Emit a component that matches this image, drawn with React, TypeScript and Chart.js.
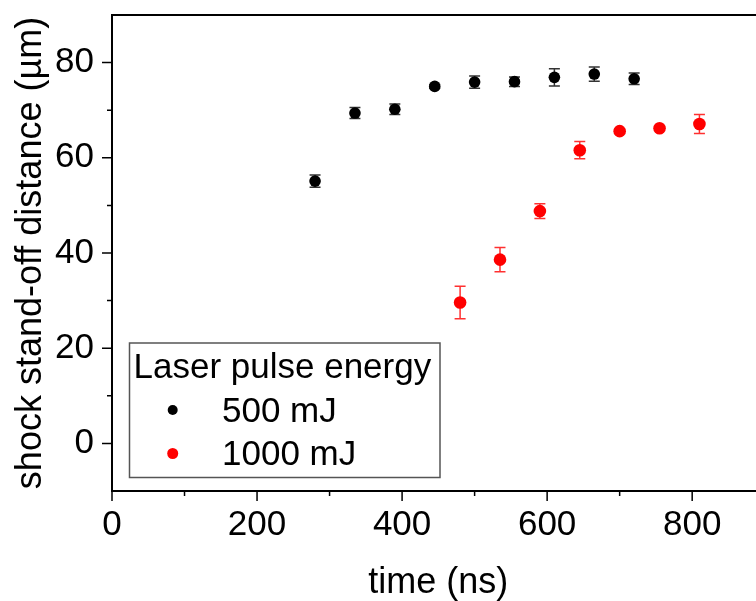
import React, { useEffect, useRef } from "react";
import { Chart, registerables } from "chart.js";

Chart.register(...registerables);

// ---- data ----
const times500 = [280, 335, 390, 445, 500, 555, 610, 665, 720];
const dist500 = [55.1, 69.4, 70.2, 75.0, 75.9, 76.0, 76.9, 77.6, 76.6];
const err500 = [1.3, 1.15, 1.1, 0.4, 1.3, 1.0, 1.8, 1.5, 1.2];

const times1000 = [480, 535, 590, 645, 700, 755, 810];
const dist1000 = [29.6, 38.6, 48.8, 61.6, 65.6, 66.2, 67.1];
const err1000 = [3.4, 2.55, 1.55, 1.8, 0.4, 0.4, 2.0];

const xMajorTicks = [0, 200, 400, 600, 800];
const xMinorTicks = [100, 300, 500, 700];
const yMajorTicks = [0, 20, 40, 60, 80];
const yMinorTicks = [10, 30, 50, 70];

const legendTitle = "Laser pulse energy";
const seriesLabels = ["500 mJ", "1000 mJ"];
const xTitle = "time (ns)";
const yTitle = "shock stand-off distance (µm)";

const FONT = "'Liberation Sans', Arial, sans-serif";

const axesPlugin = {
  id: "axesPlugin",
  afterDraw(chart: any) {
    const { ctx, chartArea, scales } = chart;
    const { left, right, top, bottom } = chartArea;
    ctx.save();
    ctx.strokeStyle = "#000";
    ctx.lineWidth = 2;
    ctx.beginPath();
    ctx.moveTo(left, top);
    ctx.lineTo(right, top);
    ctx.lineTo(right, bottom);
    ctx.lineTo(left, bottom);
    ctx.closePath();
    ctx.stroke();
    ctx.lineWidth = 1.5;
    const xs = scales.x;
    const ys = scales.y;
    ctx.beginPath();
    xMajorTicks.forEach((v) => {
      const p = xs.getPixelForValue(v);
      ctx.moveTo(p, bottom);
      ctx.lineTo(p, bottom + 10);
    });
    xMinorTicks.forEach((v) => {
      const p = xs.getPixelForValue(v);
      ctx.moveTo(p, bottom);
      ctx.lineTo(p, bottom + 5);
    });
    yMajorTicks.forEach((v) => {
      const p = ys.getPixelForValue(v);
      ctx.moveTo(left, p);
      ctx.lineTo(left - 10, p);
    });
    yMinorTicks.forEach((v) => {
      const p = ys.getPixelForValue(v);
      ctx.moveTo(left, p);
      ctx.lineTo(left - 5, p);
    });
    ctx.stroke();

    // axis titles
    ctx.fillStyle = "#000";
    ctx.font = `36px ${FONT}`;
    ctx.textAlign = "center";
    ctx.textBaseline = "alphabetic";
    ctx.fillText(xTitle, (left + right) / 2, 593);
    ctx.save();
    ctx.translate(41, (top + bottom) / 2);
    ctx.rotate(-Math.PI / 2);
    ctx.fillText(yTitle, 0, 0);
    ctx.restore();

    // legend
    ctx.strokeStyle = "#555";
    ctx.lineWidth = 1.5;
    ctx.strokeRect(129.5, 343, 310.5, 134.5);
    ctx.font = `35px ${FONT}`;
    ctx.textAlign = "left";
    ctx.fillText(legendTitle, 133.5, 377.5);
    const ds = chart.data.datasets;
    const rows = [
      { y: 410, base: 422 },
      { y: 453.5, base: 465 },
    ];
    ds.forEach((d: any, i: number) => {
      ctx.fillStyle = d.backgroundColor;
      ctx.beginPath();
      ctx.arc(172.7, rows[i].y, i === 0 ? 5 : 5.5, 0, Math.PI * 2);
      ctx.fill();
      ctx.fillStyle = "#000";
      ctx.fillText(d.label, 222, rows[i].base);
    });
    ctx.restore();
  },
};

const errorBarPlugin = {
  id: "errorBarPlugin",
  beforeDatasetsDraw(chart: any) {
    const { ctx, scales } = chart;
    const ys = scales.y;
    ctx.save();
    chart.data.datasets.forEach((d: any, di: number) => {
      const meta = chart.getDatasetMeta(di);
      ctx.strokeStyle = d.errorColor;
      ctx.lineWidth = 1.5;
      meta.data.forEach((pt: any, i: number) => {
        const v = d.data[i].y;
        const e = d.errors[i];
        const yTop = ys.getPixelForValue(v + e);
        const yBot = ys.getPixelForValue(v - e);
        const x = pt.x;
        ctx.beginPath();
        ctx.moveTo(x, yTop);
        ctx.lineTo(x, yBot);
        ctx.moveTo(x - 5.5, yTop);
        ctx.lineTo(x + 5.5, yTop);
        ctx.moveTo(x - 5.5, yBot);
        ctx.lineTo(x + 5.5, yBot);
        ctx.stroke();
      });
    });
    ctx.restore();
  },
};

export default function App() {
  const ref = useRef<HTMLCanvasElement | null>(null);

  useEffect(() => {
    if (!ref.current) return;
    const chart = new Chart(ref.current, {
      type: "scatter",
      data: {
        datasets: [
          {
            label: seriesLabels[0],
            data: times500.map((t, i) => ({ x: t, y: dist500[i] })),
            errors: err500,
            errorColor: "#333333",
            backgroundColor: "#000000",
            borderColor: "#000000",
            pointRadius: 5.8,
            pointBorderWidth: 0,
            showLine: false,
          } as any,
          {
            label: seriesLabels[1],
            data: times1000.map((t, i) => ({ x: t, y: dist1000[i] })),
            errors: err1000,
            errorColor: "#ff3030",
            backgroundColor: "#ff0000",
            borderColor: "#ff0000",
            pointRadius: 6.3,
            pointBorderWidth: 0,
            showLine: false,
          } as any,
        ],
      },
      options: {
        responsive: false,
        animation: false,
        devicePixelRatio: 1,
        layout: { padding: { top: 15, right: 0, left: 0, bottom: 0 } },
        plugins: {
          legend: { display: false },
          tooltip: { enabled: false },
        },
        scales: {
          x: {
            type: "linear",
            min: 0,
            max: 900,
            grid: { display: false, drawTicks: false },
            border: { display: false },
            ticks: {
              color: "#000",
              font: { family: FONT, size: 35 },
              padding: 13,
              maxRotation: 0,
              autoSkip: false,
            },
            afterBuildTicks: (s: any) => {
              s.ticks = xMajorTicks.map((v) => ({ value: v }));
            },
            afterFit: (s: any) => {
              s.height = 110;
              s.paddingLeft = 0;
              s.paddingRight = 0;
            },
          },
          y: {
            type: "linear",
            min: -10,
            max: 90,
            grid: { display: false, drawTicks: false },
            border: { display: false },
            ticks: {
              color: "#000",
              font: { family: FONT, size: 35 },
              padding: 18,
              autoSkip: false,
            },
            afterBuildTicks: (s: any) => {
              s.ticks = yMajorTicks.map((v) => ({ value: v }));
            },
            afterFit: (s: any) => {
              s.width = 112;
              s.paddingTop = 0;
              s.paddingBottom = 0;
            },
          },
        },
      } as any,
      plugins: [errorBarPlugin, axesPlugin],
    });
    return () => chart.destroy();
  }, []);

  return (
    <div
      style={{
        position: "fixed",
        left: 0,
        top: 0,
        width: 756,
        height: 601,
        overflow: "hidden",
        background: "#fff",
      }}
    >
      <canvas ref={ref} width={771} height={601} style={{ display: "block" }} />
    </div>
  );
}
